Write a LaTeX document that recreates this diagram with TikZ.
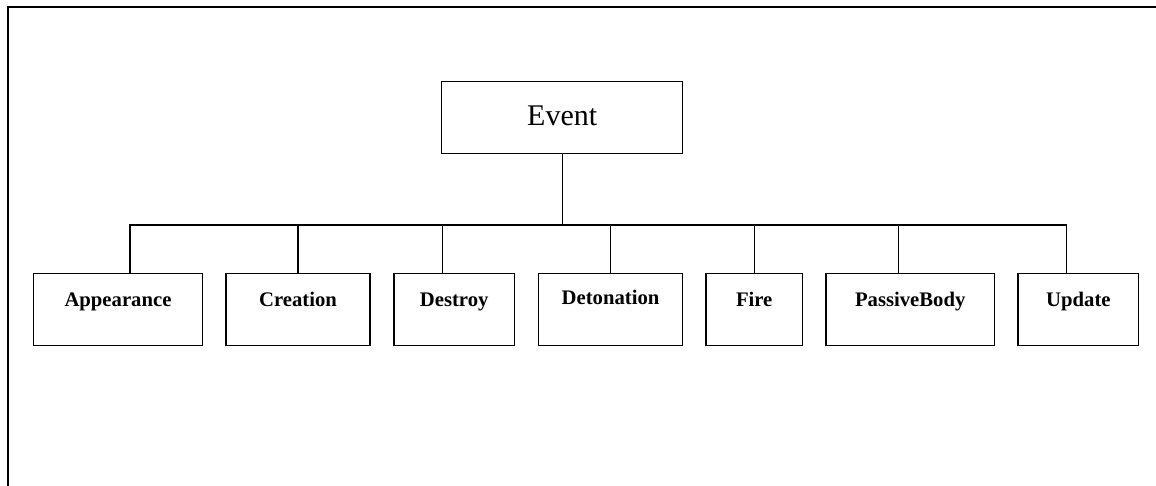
\documentclass[tikz,border=0pt]{standalone}
\usepackage{fontspec}
\setmainfont{Liberation Serif}
\begin{document}
\begin{tikzpicture}[x=1pt,y=-1pt,
  frame/.style={line width=2pt},
  link/.style={line width=1.3pt},
  parentbox/.style={draw, line width=1.3pt, minimum width=241pt, minimum height=71.6pt,
    inner sep=0pt, font=\fontsize{30}{30}\selectfont, text height=20pt, text depth=5pt},
  childbox/.style={draw, line width=1.3pt, minimum height=72pt, inner sep=0pt,
    font=\fontsize{20.7}{20.7}\selectfont\bfseries, text height=14pt, text depth=19pt}]
  \useasboundingbox (0,0) rectangle (1156,485);
  % outer frame, only its left and top edges fall on the page
  \draw[frame] (8,486) -- (8,7.3) -- (1157,7.3);

  % root
  \node[parentbox] (event) at (562.2,117.5) {Event};

  % subclasses
  \node[childbox, minimum width=168.6pt] (app)  at (118,309.3) {Appearance};
  \node[childbox, minimum width=144pt]   (cre)  at (298,309.3) {Creation};
  \node[childbox, minimum width=120.3pt] (des)  at (454.2,309.3) {Destroy};
  \node[childbox, minimum width=144.4pt, text depth=23pt] (det) at (610.5,309.3) {Detonation};
  \node[childbox, minimum width=96.3pt]  (fire) at (754.2,309.3) {Fire};
  \node[childbox, minimum width=168.3pt] (pas)  at (910.2,309.3) {PassiveBody};
  \node[childbox, minimum width=120.7pt] (upd)  at (1078.4,309.3) {Update};

  % tree connectors
  \coordinate (bus) at (562.2,225);
  \draw[link] (event.south) -- (bus);
  \draw[link] (bus) -| ([xshift=12pt]app.north);
  \draw[link] (bus) -| (cre.north);
  \draw[link] (bus) -| ([xshift=-12pt]des.north);
  \draw[link] (bus) -| (det.north);
  \draw[link] (bus) -| (fire.north);
  \draw[link] (bus) -| ([xshift=-12pt]pas.north);
  \draw[link] (bus) -| ([xshift=-12pt]upd.north);
\end{tikzpicture}
\end{document}
